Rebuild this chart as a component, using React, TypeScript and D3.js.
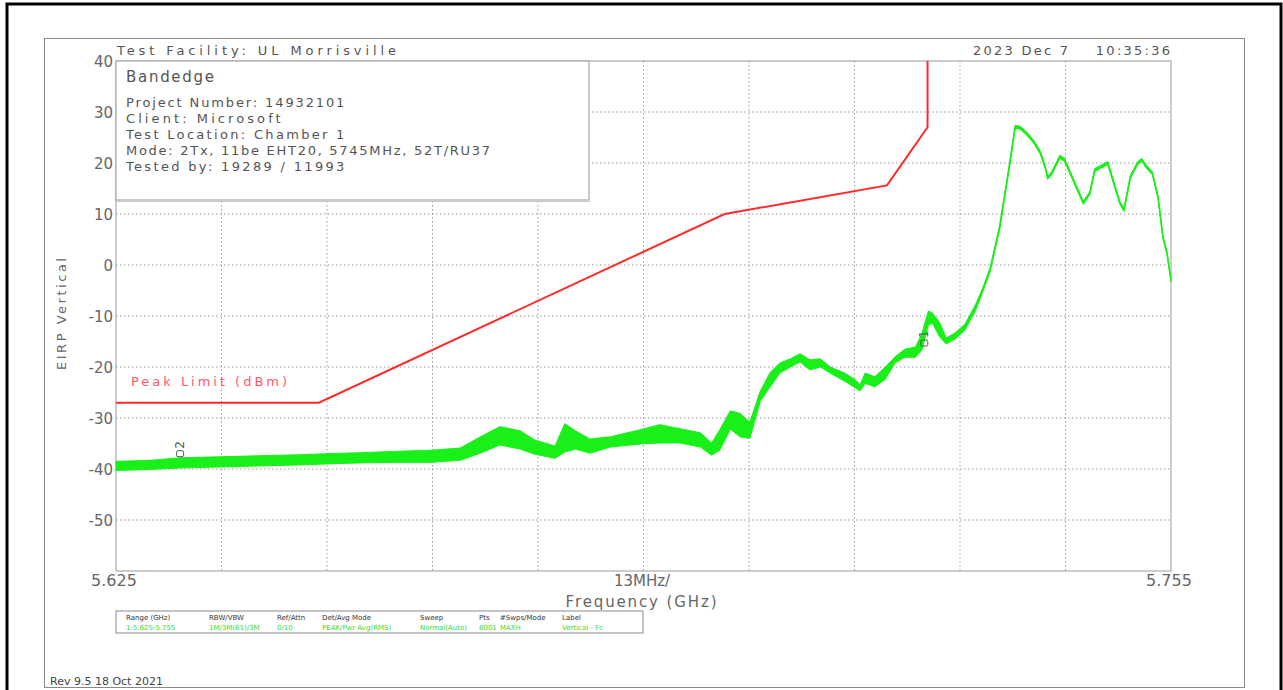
import * as d3 from "d3";

// frequency axis (MHz) and level axis (dBm)
const freqDomain = [5625, 5755];
const levelDomain = [-60, 40];
const levelTicks = [40, 30, 20, 10, 0, -10, -20, -30, -40, -50];
const freqGrid = [5638, 5651, 5664, 5677, 5690, 5703, 5716, 5729, 5742];

// peak limit mask
const limitFreq = [5625, 5650, 5700, 5720, 5725, 5725];
const limitLevel = [-27, -27, 10, 15.6, 27, 40];

const traceFreq = [
  5625.0, 5629.2, 5632.9, 5637.9, 5642.7, 5647.7, 5651.0, 5655.1, 5660.0, 5663.9,
  5667.4, 5669.9, 5672.3, 5674.8, 5676.6, 5679.1, 5680.3, 5681.6, 5683.4, 5685.9,
  5689.6, 5692.0, 5694.5, 5697.0, 5698.4, 5699.4, 5700.7, 5701.9, 5703.1, 5704.4,
  5705.6, 5706.8, 5708.1, 5709.3, 5710.5, 5711.8, 5713.0, 5714.8, 5716.1, 5716.7,
  5717.3, 5718.5, 5719.8, 5721.0, 5722.2, 5723.5, 5724.3, 5725.1, 5725.6, 5726.5,
  5727.3, 5728.4, 5729.6, 5730.9, 5731.7, 5732.7, 5733.9, 5735.2, 5735.8, 5736.4,
  5737.0, 5737.6, 5738.2, 5738.9, 5739.5, 5739.8, 5740.3, 5741.3, 5741.9, 5742.6,
  5743.5, 5744.2, 5745.0, 5745.6, 5746.3, 5747.2, 5748.1, 5748.7, 5749.2, 5750.0,
  5750.9, 5751.4, 5752.0, 5752.7, 5753.4, 5754.0, 5754.5, 5755.0,
];
const traceLevel = [
  -39.4, -39.2, -38.8, -38.6, -38.4, -38.2, -38.0, -37.8, -37.6, -37.5,
  -37.1, -35.3, -33.5, -34.3, -35.7, -36.7, -33.9, -34.3, -35.5, -34.7,
  -33.7, -33.1, -33.5, -34.3, -36.1, -34.3, -30.4, -31.4, -32.4, -25.7,
  -22.5, -20.2, -19.2, -18.2, -19.6, -19.2, -20.6, -22.0, -23.3, -24.1,
  -22.2, -22.9, -21.2, -18.6, -17.3, -17.1, -15.1, -10.4, -10.4, -12.7,
  -14.9, -13.9, -12.2, -8.4, -5.3, -1.0, 7.5, 20.6, 27.1, 26.9,
  26.1, 25.1, 23.9, 22.0, 19.2, 17.1, 18.0, 21.2, 20.6, 18.0,
  14.7, 12.2, 14.1, 18.6, 19.2, 20.0, 15.3, 12.2, 10.8, 17.3,
  20.0, 20.6, 19.2, 18.0, 13.3, 5.5, 2.4, -3.0,
];
const traceSpread = [
  0.9, 0.9, 1.0, 1.0, 1.0, 1.0, 1.0, 1.0, 1.1, 1.2,
  1.2, 1.6, 1.8, 1.8, 1.4, 1.2, 2.8, 1.8, 1.4, 1.0,
  1.4, 1.8, 1.4, 1.4, 1.2, 2.0, 1.8, 2.3, 1.6, 1.0,
  1.4, 1.0, 0.8, 0.8, 1.0, 0.8, 0.6, 0.8, 0.8, 0.6,
  1.0, 1.0, 1.2, 0.6, 0.8, 1.0, 1.6, 1.4, 1.0, 1.4,
  0.6, 0.6, 0.6, 0.6, 0.4, 0.4, 0.4, 0.4, 0.3, 0.3,
  0.3, 0.3, 0.3, 0.3, 0.3, 0.3, 0.3, 0.3, 0.3, 0.3,
  0.3, 0.3, 0.3, 0.3, 0.3, 0.3, 0.3, 0.3, 0.3, 0.3,
  0.3, 0.3, 0.3, 0.3, 0.3, 0.3, 0.3, 0.3,
];

// markers
const markerLabel = ["1", "2"];
const markerFreq = [5724.6, 5632.9];
const markerLevel = [-15.3, -37.0];

// info box lines
const infoTitle = "Bandedge";
const infoLines = [
  "Project Number: 14932101",
  "Client: Microsoft",
  "Test Location: Chamber 1",
  "Mode: 2Tx, 11be EHT20, 5745MHz, 52T/RU37",
  "Tested by: 19289 / 11993",
];

// settings table
const tableHeads = ["Range (GHz)", "RBW/VBW", "Ref/Attn", "Det/Avg Mode", "Sweep", "Pts", "#Swps/Mode", "Label"];
const tableValues = ["1:5.625-5.755", "1M/3M(61)/3M", "0/10", "PEAK/Pwr Avg(RMS)", "Normal(Auto)", "8001", "MAXH", "Vertical - Fc"];
const tableCols = [126, 209, 277, 322, 420, 479, 500, 562];

const font = "'DejaVu Sans', sans-serif";

export default function App() {
  const x = d3.scaleLinear().domain(freqDomain).range([116, 1171]);
  const y = d3.scaleLinear().domain(levelDomain).range([571, 61]);

  const idx = d3.range(traceFreq.length);
  const band = d3
    .area<number>()
    .x((i) => x(traceFreq[i]))
    .y0((i) => y(traceLevel[i] - traceSpread[i]))
    .y1((i) => y(traceLevel[i] + traceSpread[i]));
  const centre = d3
    .line<number>()
    .x((i) => x(traceFreq[i]))
    .y((i) => y(traceLevel[i]));
  const limit = d3
    .line<number>()
    .x((i) => x(limitFreq[i]))
    .y((i) => y(limitLevel[i]));

  const green = "#19f019";
  const gridStyle = { stroke: "#9a9a9a", strokeWidth: 1, strokeDasharray: "1.5,2.5" };

  return (
    <>
      <style>{`body{margin:0}`}</style>
      <svg width={1283} height={690} style={{ display: "block", background: "#fff" }} fontFamily={font}>
        {/* page frames */}
        <rect x={7} y={4} width={1274} height={700} fill="none" stroke="#000" strokeWidth={3} />
        <rect x={44.5} y={38.5} width={1200} height={649} fill="none" stroke="#8a8a8a" />

        {/* grid */}
        {levelTicks.slice(1).map((t) => (
          <line key={"gy" + t} x1={116} x2={1171} y1={y(t)} y2={y(t)} style={gridStyle} />
        ))}
        {freqGrid.map((f) => (
          <line key={"gx" + f} x1={x(f)} x2={x(f)} y1={61} y2={571} style={gridStyle} />
        ))}
        <rect x={116} y={61} width={1055} height={510} fill="none" stroke="#9a9a9a" />

        {/* info box */}
        <rect x={116} y={61} width={473} height={139} fill="#fff" stroke="#a8a8a8" strokeWidth={1.2} />
        <line x1={117} x2={590} y1={201.5} y2={201.5} stroke="#c8c8c8" />
        <text x={126} y={82} fontSize={15} fill="#555" textLength={88} lengthAdjust="spacing">
          {infoTitle}
        </text>
        {infoLines.map((s, i) => (
          <text key={s} x={126} y={107 + i * 16} fontSize={13} fill="#555" textLength={s.length * 9.1} lengthAdjust="spacing">
            {s}
          </text>
        ))}

        {/* header texts */}
        <text x={117} y={55} fontSize={13} fill="#555" textLength={279} lengthAdjust="spacing">
          Test Facility:  UL Morrisville
        </text>
        <text x={973} y={55} fontSize={13} fill="#555" textLength={197} lengthAdjust="spacing" xmlSpace="preserve">
          2023 Dec 7    10:35:36
        </text>

        {/* y axis labels */}
        {levelTicks.map((t) => (
          <text key={"yl" + t} x={113} y={y(t) + 6} fontSize={15} fill="#666" textAnchor="end">
            {t}
          </text>
        ))}
        <text
          transform={`translate(66,314) rotate(-90)`}
          fontSize={13}
          fill="#666"
          textAnchor="middle"
          textLength={112}
          lengthAdjust="spacing"
        >
          EIRP Vertical
        </text>

        {/* x axis labels */}
        <text x={x(5625) - 2} y={586} fontSize={16} fill="#666" textAnchor="middle">
          5.625
        </text>
        <text x={642} y={586} fontSize={15} fill="#666" textAnchor="middle">
          13MHz/
        </text>
        <text x={x(5755) - 2} y={586} fontSize={16} fill="#666" textAnchor="middle">
          5.755
        </text>
        <text x={641} y={607} fontSize={15} fill="#666" textAnchor="middle" textLength={151} lengthAdjust="spacing">
          Frequency (GHz)
        </text>

        {/* limit line */}
        <path d={limit(d3.range(limitFreq.length)) || ""} fill="none" stroke="#ff2a2a" strokeWidth={2} />
        <text x={131} y={386} fontSize={13} fill="#ff5a6a" textLength={156} lengthAdjust="spacing">
          Peak Limit (dBm)
        </text>

        {/* measured trace */}
        <path d={band(idx) || ""} fill={green} stroke={green} strokeWidth={1} />
        <path d={centre(idx) || ""} fill="none" stroke={green} strokeWidth={1.5} />

        {/* markers */}
        {markerLabel.map((m, i) => {
          const mx = x(markerFreq[i]);
          const my = y(markerLevel[i]);
          return (
            <g key={m}>
              <rect x={mx - 3.5} y={my - 3} width={7} height={6} rx={1.5} fill="none" stroke="#555" strokeWidth={1} />
              <text transform={`translate(${mx + 4},${my - 5}) rotate(-90)`} fontSize={12} fill="#555">
                {m}
              </text>
            </g>
          );
        })}

        {/* settings table */}
        <rect x={116} y={611} width={527} height={22} fill="#fff" stroke="#8a8a8a" />
        {tableHeads.map((h, i) => (
          <text key={h} x={tableCols[i]} y={620} fontSize={7} fill="#333">
            {h}
          </text>
        ))}
        {tableValues.map((v, i) => (
          <text key={"v" + i} x={tableCols[i]} y={630} fontSize={7} fill="#33dd33">
            {v}
          </text>
        ))}

        <text x={50} y={685} fontSize={11} fill="#444">
          Rev 9.5 18 Oct 2021
        </text>
      </svg>
    </>
  );
}
